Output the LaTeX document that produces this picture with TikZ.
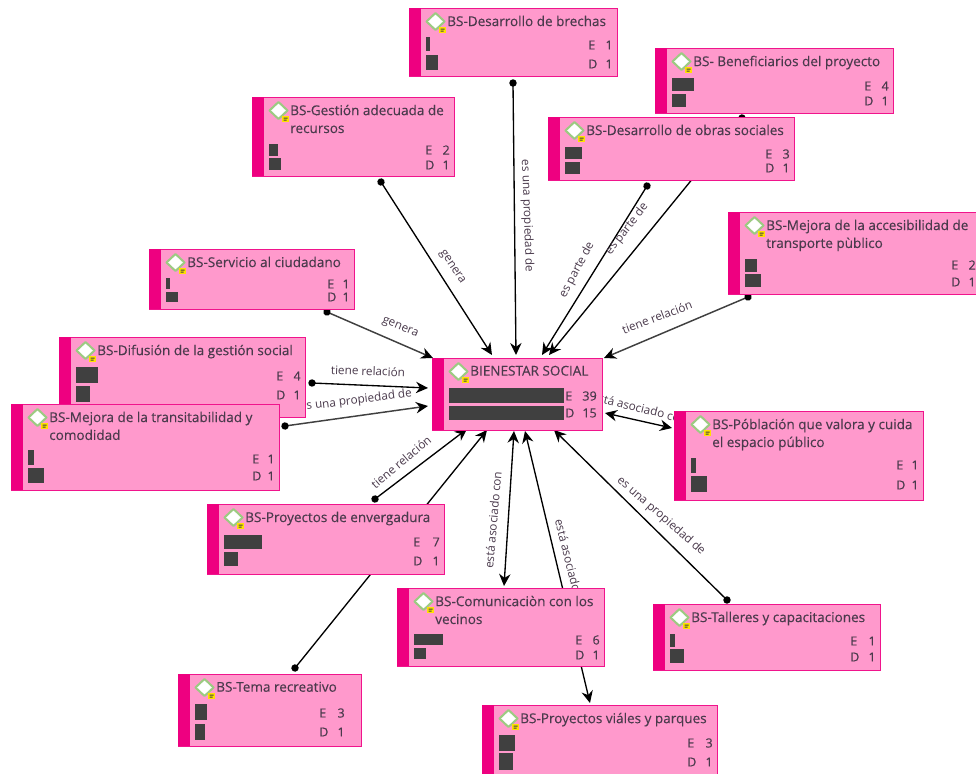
\documentclass[tikz,border=0pt]{standalone}
\usepackage{fontspec}
\setmainfont{Open Sans}
\newfontfamily\titlefont[FakeBold=0.25]{Open Sans}
\usetikzlibrary{arrows.meta}
\definecolor{cardfill}{HTML}{FF99CC}
\definecolor{cardedge}{HTML}{F0148C}
\definecolor{cardstrip}{HTML}{EE0080}
\definecolor{cardink}{HTML}{4A3A4C}
\definecolor{barink}{HTML}{404040}
\definecolor{iconedge}{HTML}{9CCB82}
\definecolor{noteink}{HTML}{FFE100}
\tikzset{
  x=0.75pt,y=-0.75pt,
  cardbox/.style={draw=cardedge,fill=cardfill,line width=1pt,inner sep=0pt,anchor=north west},
  titletext/.style={text=cardink,font=\titlefont\fontsize{10.15pt}{13.4pt}\selectfont,align=left,anchor=north west,inner sep=0pt},
  counttext/.style={text=cardink,font=\titlefont\fontsize{9.4pt}{11pt}\selectfont,inner sep=0pt},
  edgelabel/.style={text=cardink,font=\fontsize{8.8pt}{10pt}\selectfont,inner sep=0pt},
  dotlink/.style={draw=black,line width=1pt,shorten <=-2.75pt,{Circle[length=5.5pt,width=5.5pt]}-{Stealth[length=9pt,width=8.5pt]}},
  dotlinkgray/.style={draw=barink,line width=1.1pt,shorten <=-2.75pt,{Circle[length=5.5pt,width=5.5pt,color=black]}-{Stealth[length=9pt,width=8.5pt,color=black]}},
  bothlink/.style={draw=black,line width=1pt,{Stealth[length=9pt,width=8.5pt]}-{Stealth[length=9pt,width=8.5pt]}},
}
% id, x0, y0, x1, y1, title, bars y/h/w, texts letter/number/y/number offset, letter offset
\newcommand{\cardnode}[9]{%
  \node[cardbox,minimum width={(#4-#2)*0.75pt},minimum height={(#5-#3)*0.75pt}] (#1) at (#2,#3) {};
  \fill[cardstrip] (#2,#3) rectangle (#2+12,#5);
  \draw[iconedge,fill=white,line width=1.5pt,line join=round] (#2+26.5,#3+5) -- (#2+35.5,#3+13.5) -- (#2+26.5,#3+22) -- (#2+17.5,#3+13.5) -- cycle;
  \fill[noteink] (#2+30,#3+19) rectangle (#2+37,#3+25);
  \fill[barink] (#2+31.5,#3+20.7) rectangle (#2+35.5,#3+21.7) (#2+31.5,#3+22.7) rectangle (#2+34.5,#3+23.7);
  \node[titletext] (#1-t) at (#2+38,#3+7.5) {#6};
  \foreach \by/\bh/\bw in {#7} { \fill[barink] (#2+17,\by) rectangle (#2+17+\bw,\by+\bh); }
  \foreach \tl/\tn/\ty/\tk in {#8} {
    \node[counttext,anchor=west] (#1-\tl) at (#4-#9,\ty) {\tl};
    \node[counttext,anchor=east] (#1-n\tl) at (#4-\tk,\ty) {\tn};
  }
}
% style, source id, dx, dy, target id, dx, dy (offsets from north west corners, in pixels)
\newcommand{\linkcards}[7]{\draw[#1] ([shift={(#3,#4)}]#2.north west) -- ([shift={(#6,#7)}]#5.north west);}
\begin{document}
\begin{tikzpicture}
\useasboundingbox (0,0) rectangle (976,774);
\clip (0,0) rectangle (976,774);
\fill[white] (0,0) rectangle (976,774);
% invisible layout nodes first, so connectors can name them
\foreach \nid/\nx/\ny/\nw/\nh in {brechas/409/8/208/68,benef/655/48/238/65,obras/548/117/246/63,gestion/252/97/202/79,acces/728/212/252/82,servicio/149/249/205/60,difusion/59/337/246/80,trans/11/404/268/86,hub/432/358/170/72,pobl/674/411/249/89,enverg/207/504/237/70,comun/397/588/207/78,talleres/653/604/227/66,tema/178/674/183/72,viales/482/705/235/73}{
  \node[inner sep=0pt,anchor=north west,minimum width={\nw*0.75pt},minimum height={\nh*0.75pt}] (\nid) at (\nx,\ny) {};
}
% connectors
\linkcards{dotlink}{brechas}{104}{75}{hub}{84}{-3}
\linkcards{dotlink}{gestion}{129}{85}{hub}{60}{-3}
\linkcards{dotlinkgray}{servicio}{178}{63}{hub}{1}{0}
\linkcards{dotlink}{difusion}{253}{46}{hub}{-4}{30}
\linkcards{dotlinkgray}{trans}{274}{22}{hub}{-4}{48}
\linkcards{dotlink}{obras}{99}{69}{hub}{110}{-3}
\linkcards{dotlink}{benef}{87}{70}{hub}{117}{-3}
\linkcards{dotlinkgray}{acces}{20}{85}{hub}{172}{0}
\linkcards{bothlink}{pobl}{-2}{17}{hub}{173}{55}
\linkcards{dotlink}{enverg}{168}{-5}{hub}{35}{71}
\linkcards{dotlink}{tema}{117}{-6}{hub}{55}{72}
\linkcards{bothlink}{comun}{107}{-2}{hub}{82}{73}
\linkcards{bothlink}{viales}{108}{-2}{hub}{93}{73}
\linkcards{dotlink}{talleres}{74}{-4}{hub}{122}{72}
% connector labels
\node[edgelabel,rotate=-88] (l1) at (527,216) {es una propiedad de};
\node[edgelabel,rotate=-56] (l2) at (452,267) {genera};
\node[edgelabel,rotate=-22] (l3) at (400,328) {genera};
\node[edgelabel,rotate=-2] (l4) at (368,371) {tiene relación};
\node[edgelabel,rotate=7,anchor=east] (l5) at (412,394) {es una propiedad de};
\node[edgelabel,rotate=62] (l6) at (577,270) {es parte de};
\node[edgelabel,rotate=52] (l7) at (627,229) {es parte de};
\node[edgelabel,rotate=21] (l8) at (657,317) {tiene relación};
\node[edgelabel,rotate=-14,anchor=west] (l9) at (592,396) {está asociado con};
\node[edgelabel,rotate=40] (l10) at (401,462) {tiene relación};
\node[edgelabel,rotate=85] (l11) at (493,520) {está asociado con};
\node[edgelabel,rotate=-76,anchor=west] (l12) at (559,519) {está asociado con};
\node[edgelabel,rotate=-41] (l13) at (661,516) {es una propiedad de};
% cards
\cardnode{brechas}{409}{8}{617}{76}{BS-Desarrollo de brechas}{37/14/4,55/15/12}{E/1/45/4,D/1/64/4}{29}
\cardnode{benef}{655}{48}{893}{113}{BS- Beneficiarios del proyecto}{78/13/22,94/13/14}{E/4/86/4,D/1/101/4}{29}
\cardnode{obras}{548}{117}{794}{180}{BS-Desarrollo de obras sociales}{147/12/17,162/12/15}{E/3/154/4,D/1/168/4}{29}
\cardnode{gestion}{252}{97}{454}{176}{BS-Gestión adecuada de\\recursos}{144/12/9,158/12/12}{E/2/150/4,D/1/165/4}{29}
\cardnode{acces}{728}{212}{980}{294}{BS-Mejora de la accesibilidad de\\transporte pùblico}{259/13/12,274/13/16}{E/2/265/4,D/1/282/4}{29}
\cardnode{servicio}{149}{249}{354}{309}{BS-Servicio al ciudadano}{278/11/4,292/10/12}{E/1/284/4,D/1/297/4}{27}
\cardnode{difusion}{59}{337}{305}{417}{BS-Difusión de la gestión social}{367/16/22,386/16/14}{E/4/376/4,D/1/395/4}{29}
\cardnode{trans}{11}{404}{279}{490}{BS-Mejora de la transitabilidad y\\comodidad}{450/15/6,468/15/16}{E/1/459/4,D/1/476/4}{27}
\cardnode{hub}{432}{358}{602}{430}{BIENESTAR SOCIAL}{388/15/115,406/14/115}{E/39/396/5,D/15/413/5}{37}
\cardnode{pobl}{674}{411}{923}{500}{BS-Póblación que valora y cuida\\el espacio público}{458/15/5,476/16/16}{E/1/465/4,D/1/485/4}{27}
\cardnode{enverg}{207}{504}{444}{574}{BS-Proyectos de envergadura}{535/14/38,552/14/14}{E/7/542/4,D/1/561/4}{31}
\cardnode{comun}{397}{588}{604}{666}{BS-Comunicaciòn con los\\vecinos}{634/11/29,648/11/12}{E/6/640/4,D/1/655/4}{29}
\cardnode{talleres}{653}{604}{880}{670}{BS-Talleres y capacitaciones}{634/13/5,649/14/14}{E/1/641/4,D/1/657/4}{30}
\cardnode{tema}{178}{674}{361}{746}{BS-Tema recreativo}{704/16/12,724/16/10}{E/3/713/16,D/1/732/16}{42}
\cardnode{viales}{482}{705}{717}{780}{BS-Proyectos viáles y parques}{735/16/16,753/17/14}{E/3/743/4,D/1/762/4}{30}
\end{tikzpicture}
\end{document}
